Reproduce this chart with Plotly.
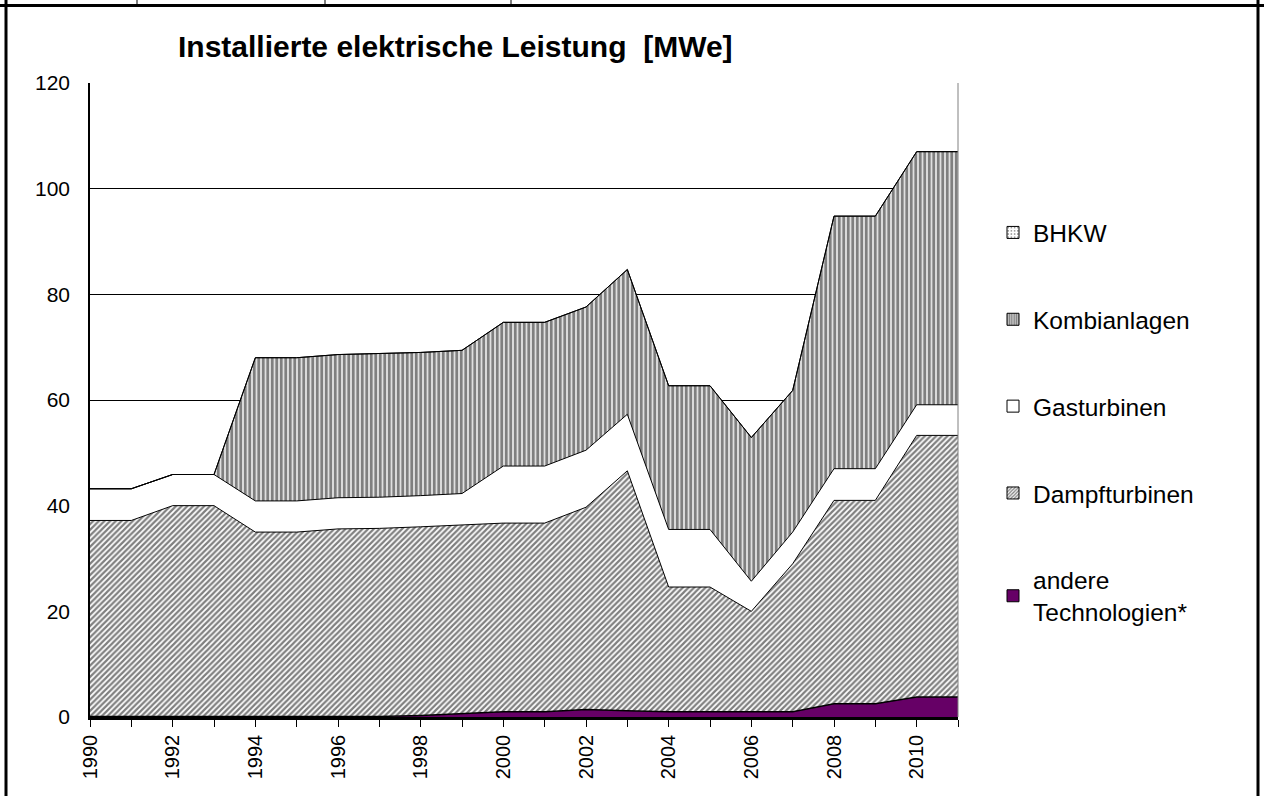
import plotly.graph_objects as go

# Installed electrical capacity by technology [MWe], 1990-2011
years = list(range(1990, 2012))

andere = [0.1, 0.1, 0.1, 0.1, 0.1, 0.1, 0.1, 0.1, 0.3, 0.7, 1.0,
          1.0, 1.4, 1.2, 1.0, 1.0, 1.0, 1.0, 2.5, 2.5, 3.8, 3.8]
dampf = [37.1, 37.1, 39.9, 39.9, 34.9, 34.9, 35.5, 35.6, 35.7, 35.6, 35.7,
         35.7, 38.3, 45.4, 23.6, 23.6, 19.0, 28.0, 38.5, 38.5, 49.5, 49.5]
gas = [6.0, 6.0, 5.9, 5.9, 5.9, 5.9, 5.9, 5.9, 5.9, 6.0, 10.8,
       10.8, 10.8, 10.7, 10.9, 10.9, 5.7, 6.0, 6.0, 6.0, 5.8, 5.8]
kombi = [0.0, 0.0, 0.0, 0.0, 27.1, 27.1, 27.1, 27.2, 27.1, 27.1, 27.2,
         27.2, 27.1, 27.4, 27.2, 27.2, 27.2, 26.8, 47.8, 47.8, 47.9, 47.9]
bhkw = [0.0] * 22

names = ["andere<br>Technologien*", "Dampfturbinen", "Gasturbinen",
         "Kombianlagen", "BHKW"]
series = [andere, dampf, gas, kombi, bhkw]

FONT = "Liberation Sans, Arial, sans-serif"

# figure geometry (pixels)
W, H = 1264, 796
L, R, T, B = 90, 958, 83, 717


def px_x(px):
    return (px - L) / (R - L)


def px_y(py):
    return (B - py) / (B - T)


fills = [
    dict(fillcolor="#660066", fillpattern=None),
    dict(fillcolor="white",
         fillpattern=dict(shape="/", fgcolor="black", bgcolor="white",
                          size=4, solidity=0.55)),
    dict(fillcolor="white", fillpattern=None),
    dict(fillcolor="white",
         fillpattern=dict(shape="|", fgcolor="black", bgcolor="white",
                          size=4.5, solidity=0.7)),
    dict(fillcolor="white",
         fillpattern=dict(shape=".", fgcolor="black", bgcolor="white",
                          size=5, solidity=0.2)),
]

fig = go.Figure()

# stacked areas, bottom to top
for name, vals, f in zip(names, series, fills):
    kw = dict(x=years, y=vals, mode="lines", stackgroup="one",
              line=dict(color="black", width=1.5 if name.startswith("andere") else 1),
              fillcolor=f["fillcolor"], showlegend=False, hoverinfo="skip")
    if f["fillpattern"] is not None:
        kw["fillpattern"] = f["fillpattern"]
    fig.add_trace(go.Scatter(**kw))

# square legend swatches, listed top series first
for i in reversed(range(len(names))):
    f = fills[i]
    marker = dict(color=f["fillcolor"], line=dict(color="black", width=1))
    if f["fillpattern"] is not None:
        p = dict(f["fillpattern"])
        p["size"] = 3 if p["shape"] != "." else 4
        marker["pattern"] = p
    fig.add_trace(go.Bar(x=[None], y=[None], name=names[i], marker=marker,
                         legendgroup=f"g{4 - i}", showlegend=True))

fig.update_layout(
    width=W, height=H,
    margin=dict(l=L, r=W - R, t=T, b=H - B),
    paper_bgcolor="white", plot_bgcolor="white",
    font=dict(family=FONT, color="black", size=20),
    showlegend=True,
    legend=dict(x=px_x(993), y=px_y(210), xanchor="left", yanchor="top",
                traceorder="grouped", tracegroupgap=52,
                font=dict(size=24.5, family=FONT), bgcolor="rgba(0,0,0,0)",
                itemwidth=30),
    xaxis=dict(range=[1990, 2011], tickmode="linear", tick0=1990, dtick=2,
               tickangle=-90, ticks="outside", ticklen=7, tickcolor="black",
               showline=True, linecolor="black", linewidth=2.5,
               showgrid=False, zeroline=False,
               tickfont=dict(size=20, family=FONT),
               minor=dict(dtick=1, ticks="outside", ticklen=7,
                          tickcolor="black", showgrid=False)),
    yaxis=dict(range=[0, 120], tickmode="linear", tick0=0, dtick=20,
               showline=True, linecolor="black", linewidth=1.5,
               showgrid=True, gridcolor="black", gridwidth=1,
               zeroline=False, ticks="", ticklabelstandoff=14,
               tickfont=dict(size=21, family=FONT)),
    barmode="stack",
)

# chart title
fig.add_annotation(text="<b>Installierte elektrische Leistung\u00a0\u00a0[MWe]</b>",
                   x=px_x(455), y=px_y(47), xref="paper", yref="paper",
                   showarrow=False, xanchor="center", yanchor="middle",
                   font=dict(size=30, family=FONT))

shapes = [
    # right edge of plotting area
    dict(type="line", xref="paper", yref="paper", x0=1, x1=1, y0=0, y1=1,
         line=dict(color="#808080", width=1)),
    # outer frame
    dict(type="line", xref="paper", yref="paper", x0=px_x(6), x1=px_x(6),
         y0=px_y(0), y1=px_y(800), line=dict(color="black", width=3)),
    dict(type="line", xref="paper", yref="paper", x0=px_x(1258), x1=px_x(1258),
         y0=px_y(0), y1=px_y(800), line=dict(color="black", width=3)),
    dict(type="line", xref="paper", yref="paper", x0=px_x(0), x1=px_x(1264),
         y0=px_y(5.5), y1=px_y(5.5), line=dict(color="black", width=3)),
]
# table cell separators in the row above the frame
for cx in [137, 325, 511]:
    shapes.append(dict(type="line", xref="paper", yref="paper",
                       x0=px_x(cx), x1=px_x(cx), y0=px_y(0), y1=px_y(5),
                       line=dict(color="black", width=1)))
fig.update_layout(shapes=shapes)

fig.write_html("out.html")
